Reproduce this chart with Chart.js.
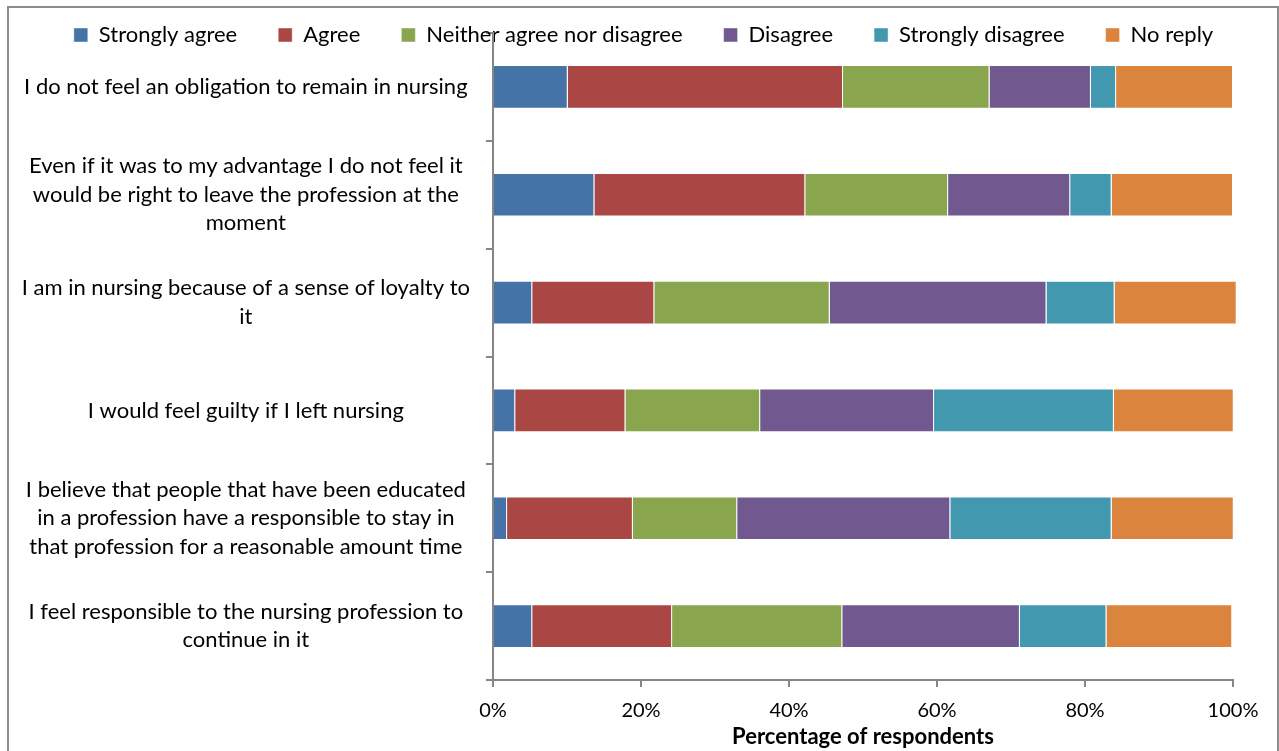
<!DOCTYPE html>
<html>
<head>
<meta charset="utf-8">
<style>
  body { margin: 0; background: #fff; }
  #wrap { position: relative; width: 1279px; height: 751px; overflow: hidden; }
  #frame { position: absolute; left: 7px; top: 6px; width: 1268px; height: 760px; border: 2px solid #8c8c8c; }
  #box { position: absolute; left: 0; top: 0; width: 1279px; height: 751px; }
</style>
</head>
<body>
<div id="wrap">
  <div id="frame"></div>
  <div id="box"><canvas id="grafico"></canvas></div>
</div>

<script src="https://cdn.jsdelivr.net/npm/chart.js"></script>

<script>
  // perguntas (de cima para baixo)
  const perguntas = [
    "I do not feel an obligation to remain in nursing",
    ["Even if it was to my advantage I do not feel it", "would be right to leave the profession at the", "moment"],
    ["I am in nursing because of a sense of loyalty to", "it"],
    "I would feel guilty if I left nursing",
    ["I believe that people that have been educated", "in a profession have a responsible to stay in", "that profession for a reasonable amount time"],
    ["I feel responsible to the nursing profession to", "continue in it"]
  ];

  // % de respondentes por resposta
  const stronglyAgree    = [10.1, 13.7, 5.3, 3.0, 1.9, 5.3];
  const agree            = [37.2, 28.5, 16.5, 14.9, 17.0, 18.9];
  const neither          = [19.8, 19.3, 23.7, 18.2, 14.1, 23.0];
  const disagree         = [13.7, 16.5, 29.3, 23.5, 28.8, 24.0];
  const stronglyDisagree = [3.4, 5.6, 9.2, 24.3, 21.8, 11.7];
  const noReply          = [15.8, 16.4, 16.5, 16.2, 16.5, 17.0];

  const ticksX = [0, 20, 40, 60, 80, 100];

  const fonte = "Lato";
  const cinza = "#868686";
  const espacoLegenda = 41;

  function serie(label, data, cor) {
    return {
      label, data,
      backgroundColor: cor,
      borderColor: "rgba(255,255,255,0.45)",
      borderWidth: 1,
      barPercentage: 0.405,
      categoryPercentage: 1,
      clip: false
    };
  }

  // legenda por cima do topo da área do gráfico (como no Excel)
  const legendaSobreposta = {
    id: "legendaSobreposta",
    afterLayout(chart) {
      const l = chart.legend;
      l.top -= (espacoLegenda - 24);
      l.bottom = l.top + 100;
      l.height = 100;
      l.right = chart.width;
      l.width = l.right - l.left;
    }
  };

  const ctx = document.getElementById("grafico").getContext("2d");

  new Chart(ctx, {
    type: "bar",
    data: {
      labels: perguntas,
      datasets: [
        serie("Strongly agree", stronglyAgree, "#4572A7"),
        serie("Agree", agree, "#AA4643"),
        serie("Neither agree nor disagree", neither, "#89A54E"),
        serie("Disagree", disagree, "#71588F"),
        serie("Strongly disagree", stronglyDisagree, "#4198AF"),
        serie("No reply", noReply, "#DB843D")
      ]
    },
    options: {
      indexAxis: "y",
      responsive: true,
      maintainAspectRatio: false,
      animation: false,
      layout: { padding: { left: 8, right: 46, top: 0, bottom: 0 } },
      plugins: {
        tooltip: { enabled: false },
        legend: {
          position: "top",
          maxHeight: 33,
          labels: {
            boxWidth: 14,
            boxHeight: 14,
            padding: espacoLegenda,
            color: "#000",
            font: { family: fonte, size: 22 }
          }
        }
      },
      scales: {
        x: {
          stacked: true,
          min: 0,
          max: 100,
          afterBuildTicks: (s) => { s.ticks = ticksX.map(v => ({ value: v })); },
          afterFit: (s) => { s.height = 71; },
          ticks: {
            color: "#000",
            padding: 12,
            font: { family: fonte, size: 20 },
            callback: (v) => v + "%"
          },
          grid: { drawOnChartArea: false, drawTicks: true, tickLength: 7, color: cinza, lineWidth: 2 },
          border: { display: true, color: cinza, width: 2 },
          title: {
            display: true,
            text: "Percentage of respondents",
            color: "#000",
            padding: { top: 0, bottom: 1 },
            font: { family: fonte, size: 22, weight: "bold" }
          }
        },
        y: {
          stacked: true,
          afterFit: (s) => { s.width = 485; s.paddingTop = 0; s.paddingBottom = 0; },
          ticks: {
            color: "#000",
            padding: 16,
            crossAlign: "center",
            font: { family: fonte, size: 22, lineHeight: 1.3 }
          },
          grid: { drawOnChartArea: false, drawTicks: true, tickLength: 7, color: cinza, lineWidth: 2 },
          border: { display: true, color: cinza, width: 2 }
        }
      }
    },
    plugins: [legendaSobreposta]
  });
</script>
</body>
</html>
